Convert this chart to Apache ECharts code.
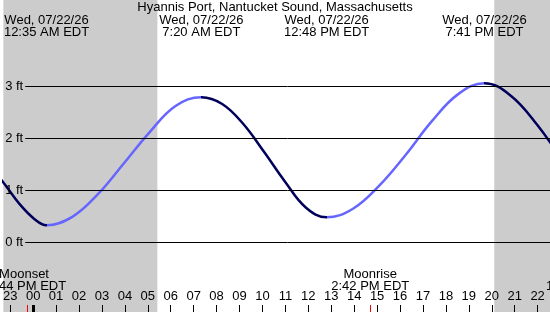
<!DOCTYPE html>
<html><head><meta charset="utf-8">
<script src="https://cdn.jsdelivr.net/npm/echarts@6/dist/echarts.min.js"></script>
<style>html,body{margin:0;padding:0;background:#fff}#c{width:550px;height:312px}</style>
</head><body><div id="c"></div>
<script>
const titleText = 'Hyannis Port, Nantucket Sound, Massachusetts';
// tide curve readings (hours from midnight Wed 07/22/26, height in ft), extremes included
const hours   = [-2.0, -1.3, -0.6, 0.05, 0.583, 1.708, 2.833, 3.958, 5.083, 6.208, 7.333, 8.244, 9.156, 10.067, 10.978, 11.889, 12.8, 13.947, 15.094, 16.242, 17.389, 18.536, 19.683, 20.83, 21.98, 23.12];
const heights = [1.52, 1.15, 0.74, 0.45, 0.33, 0.49, 0.93, 1.52, 2.12, 2.62, 2.79, 2.66, 2.28, 1.74, 1.17, 0.67, 0.48, 0.645, 1.09, 1.68, 2.33, 2.85, 3.06, 2.82, 2.26, 1.55];
const levelTicks = [0, 1, 2, 3];
const hourTicks = [-1,0,1,2,3,4,5,6,7,8,9,10,11,12,13,14,15,16,17,18,19,20,21,22];
const extremeHours = [0.583, 7.333, 12.8, 19.683];
const extremeLabels = ['Wed, 07/22/26\n12:35 AM EDT', 'Wed, 07/22/26\n7:20 AM EDT', 'Wed, 07/22/26\n12:48 PM EDT', 'Wed, 07/22/26\n7:41 PM EDT'];
const moonHours = [-0.267, 14.7, 24.22];
const moonLabels = ['Moonset\n11:44 PM EDT', 'Moonrise\n2:42 PM EDT', 'Moonset\n12:13 AM EDT'];
const sunriseHour = 5.417, sunsetHour = 20.11;

const FONT = '"Liberation Sans", Arial, sans-serif';
const DARK = '#00005a', LIGHT = '#6666ff', NIGHT = '#cccccc';
const X_MIN = -1.3, X_MAX = 22.54, Y_MIN = -1.34, Y_MAX = 4.66;
const lineStartX = -0.347;

const chart = echarts.init(document.getElementById('c'), null, {renderer: 'canvas'});
const pad = v => String(((v % 24) + 24) % 24).padStart(2, '0');
const tickAxis = (vals, color, width) => ({
  type: 'value', min: X_MIN, max: X_MAX, position: 'bottom', z: 10,
  axisLine: {show: false, onZero: false}, splitLine: {show: false},
  axisTick: {show: true, inside: true, length: 7, customValues: vals, lineStyle: {color, width}},
  axisLabel: {show: false}
});
const option = {
  animation: false,
  backgroundColor: '#fff',
  grid: {left: 0, right: 0, top: 0, bottom: 0, containLabel: false},
  xAxis: [
    {type: 'value', min: X_MIN, max: X_MAX, position: 'bottom', z: 10,
     axisLine: {show: false, onZero: false}, splitLine: {show: false},
     axisTick: {show: true, inside: true, length: 7, customValues: hourTicks, lineStyle: {color: '#000', width: 1}},
     axisLabel: {show: true, inside: true, margin: 9, customValues: hourTicks, hideOverlap: false,
       formatter: v => pad(Math.round(v)), color: '#000', fontSize: 13, fontFamily: FONT}},
    tickAxis([0], '#000', 3),
    tickAxis(moonHours, '#ff0000', 1)
  ],
  yAxis: {type: 'value', min: Y_MIN, max: Y_MAX, show: false, splitLine: {show: false}},
  visualMap: {type: 'piecewise', show: false, dimension: 0, seriesIndex: 2,
    pieces: [
      {lt: extremeHours[0], color: DARK},
      {gte: extremeHours[0], lt: extremeHours[1], color: LIGHT},
      {gte: extremeHours[1], lt: extremeHours[2], color: DARK},
      {gte: extremeHours[2], lt: extremeHours[3], color: LIGHT},
      {gte: extremeHours[3], color: DARK}
    ]},
  series: [
    {type: 'line', data: [], z: 0, silent: true,
     markArea: {silent: true, itemStyle: {color: NIGHT, opacity: 1},
       data: [[{xAxis: X_MIN}, {xAxis: sunriseHour}], [{xAxis: sunsetHour}, {xAxis: X_MAX}]]}},
    {type: 'line', data: [], z: 1, silent: true,
     markLine: {silent: true, symbol: 'none', animation: false,
       lineStyle: {color: '#000', width: 1, type: 'solid'},
       label: {show: true, position: 'start', distance: 2, color: '#000', fontSize: 13, fontFamily: FONT,
         formatter: p => p.data.lv + ' ft'},
       data: levelTicks.map(v => [{coord: [lineStartX, v], lv: v}, {coord: [X_MAX, v]}])}},
    {type: 'line', z: 3, smooth: 0.4, showSymbol: false, symbol: 'none', clip: true,
     lineStyle: {width: 2.5}, data: hours.map((h, i) => [h, heights[i]])}
  ]
};
chart.setOption(option);
const px = h => chart.convertToPixel({xAxisIndex: 0}, h);
const txt = (text, x, y) => ({type: 'text', silent: true, z: 10,
  style: {text, x, y, textAlign: 'center', textVerticalAlign: 'top', fontSize: 13, fontFamily: FONT, fill: '#000', lineHeight: 12}});
const g = [txt(titleText, 275, 1.5)];
extremeHours.forEach((h, i) => g.push(txt(extremeLabels[i], px(h), 14)));
moonHours.forEach((h, i) => g.push(txt(moonLabels[i], px(h) - (i === 0 ? 3 : 0), 268)));
chart.setOption({graphic: g});
</script></body></html>
